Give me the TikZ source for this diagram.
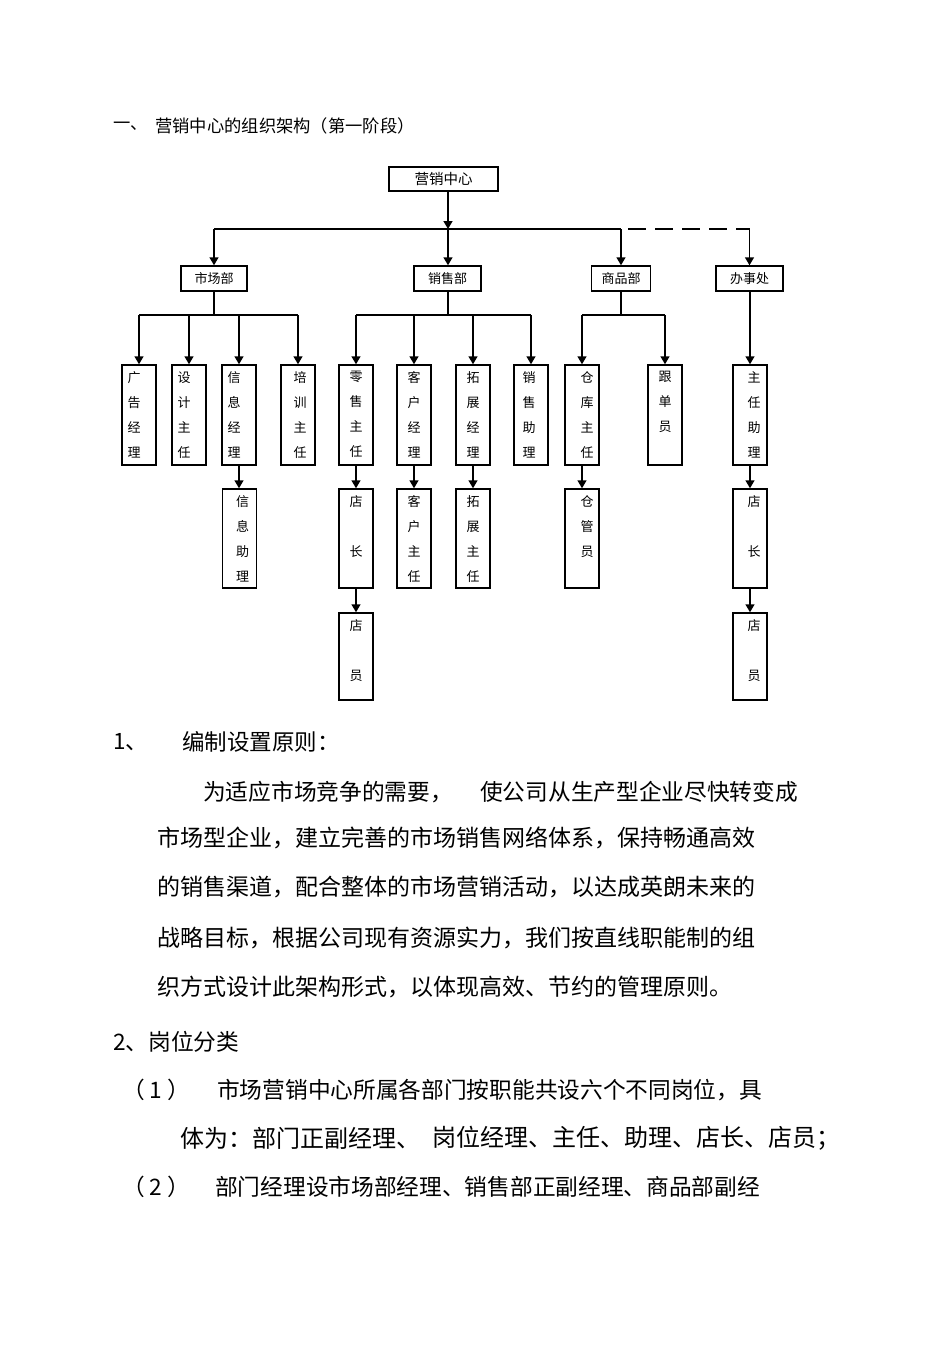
\documentclass[tikz,border=0pt]{standalone}
\usepackage{fontspec}
\setmainfont{Noto Sans CJK SC}
\usepackage{tikz}
\usetikzlibrary{shapes,arrows,arrows.meta,positioning}

\begin{document}
\begin{tikzpicture}[x=1pt,y=-1pt,
	line/.style={line width=1.5pt,draw=black},
	arr/.style={line,-{Triangle[width=9pt,length=8pt]}},
	box/.style={rectangle,draw,line width=1.5pt,inner sep=0pt},
	dept/.style={box,minimum height=25pt,font=\fontsize{13}{13}\selectfont},
	vbox/.style={box,minimum width=34pt,minimum height=100pt},
	lowbox/.style={box,minimum width=34pt,minimum height=99pt},
	endbox/.style={box,minimum width=34pt,minimum height=87pt},
	vtext/.style={inner sep=0pt,align=center,font=\fontsize{13}{25}\selectfont},
	title/.style={anchor=west,inner sep=0pt,font=\fontsize{17.3}{17.3}\selectfont},
	body/.style={anchor=west,inner sep=0pt,font=\fontsize{22.7}{22.7}\selectfont},
	wide/.style={body,font=\fontsize{23}{23}\selectfont}]
\useasboundingbox (0,0) rectangle (950,1345);

\node[title] (t1) at (113,126) {一、};
\node[title] (t2) at (155,126) {营销中心的组织架构（第一阶段）};

% top and departments
\node[box,minimum width=109pt,minimum height=24pt,font=\fontsize{14.5}{14.5}\selectfont] (center) at (443.5,179) {营销中心};
\node[dept,minimum width=66pt] (mkt) at (214,278.5) {市场部};
\node[dept,minimum width=67pt] (sales) at (447.5,278.5) {销售部\hspace{14pt}};
\node[dept,minimum width=59pt] (goods) at (621,278.5) {商品部};
\node[dept,minimum width=67pt] (office) at (749.5,278.5) {办事处};

\coordinate (bus) at (448,229);
\coordinate (sub) at (0,315);

% second level
\node[vbox] (ad) at (139,415) {};
\node[vbox] (design) at (189,415) {};
\node[vbox] (info) at (239,415) {};
\node[vbox] (train) at (298,415) {};
\node[vbox] (retail) at (356,415) {};
\node[vbox] (client) at (414,415) {};
\node[vbox] (expand) at (473,415) {};
\node[vbox] (salesast) at (531,415) {};
\node[vbox] (store) at (582,415) {};
\node[vbox] (order) at (665,415) {};
\node[vbox] (officeast) at (750,415) {};

\node[vtext,below=7pt of ad.north,xshift=-5pt] (ad-t) {广\\告\\经\\理};
\node[vtext,below=7pt of design.north,xshift=-5pt] (design-t) {设\\计\\主\\任};
\node[vtext,below=7pt of info.north,xshift=-5pt] (info-t) {信\\息\\经\\理};
\node[vtext,below=7pt of train.north,xshift=2pt] (train-t) {培\\训\\主\\任};
\node[vtext,below=7pt of retail.north] (retail-t) {零\\售\\主\\任};
\node[vtext,below=7pt of client.north] (client-t) {客\\户\\经\\理};
\node[vtext,below=7pt of expand.north] (expand-t) {拓\\展\\经\\理};
\node[vtext,below=7pt of salesast.north,xshift=-2pt] (salesast-t) {销\\售\\助\\理};
\node[vtext,below=7pt of store.north,xshift=5pt] (store-t) {仓\\库\\主\\任};
\node[vtext,below=7pt of order.north] (order-t) {跟\\单\\员};
\node[vtext,below=7pt of officeast.north,xshift=4pt] (officeast-t) {主\\任\\助\\理};

% third and fourth level
\node[lowbox] (infoast) at (239.5,538.5) {};
\node[lowbox] (shopmgr) at (356,538.5) {};
\node[lowbox] (clientdir) at (414,538.5) {};
\node[lowbox] (expanddir) at (473,538.5) {};
\node[lowbox] (keeper) at (582,538.5) {};
\node[lowbox] (officemgr) at (750,538.5) {};
\node[endbox] (clerk) at (356,656.5) {};
\node[endbox] (officeclerk) at (750,656.5) {};

\node[vtext,below=7pt of infoast.north,xshift=3pt] (infoast-t) {信\\息\\助\\理};
\node[vtext,below=7pt of shopmgr.north] (shopmgr-t) {店\\[25pt]长};
\node[vtext,below=7pt of clientdir.north] (clientdir-t) {客\\户\\主\\任};
\node[vtext,below=7pt of expanddir.north] (expanddir-t) {拓\\展\\主\\任};
\node[vtext,below=7pt of keeper.north,xshift=5pt] (keeper-t) {仓\\管\\员};
\node[vtext,below=7pt of officemgr.north,xshift=4pt] (officemgr-t) {店\\[25pt]长};
\node[vtext,below=7pt of clerk.north] (clerk-t) {店\\[25pt]员};
\node[vtext,below=7pt of officeclerk.north,xshift=4pt] (officeclerk-t) {店\\[25pt]员};

% connectors
\draw[arr] (center.south -| bus) -- (bus);
\draw[line] (mkt.north |- bus) -- (goods.north |- bus);
\draw[line,dash pattern=on 18pt off 9pt,dash phase=-7pt] (goods.north |- bus) -- (office.north |- bus);
\draw[arr] (mkt.north |- bus) -- (mkt.north);
\draw[arr] (bus) -- (bus |- sales.north);
\draw[arr] (goods.north |- bus) -- (goods.north);
\draw[arr] (office.north |- bus) -- (office.north);

\draw[line] (mkt.south) -- (mkt.south |- sub);
\draw[line] (ad.north |- sub) -- (train.north |- sub);
\foreach \b in {ad,design,info,train} \draw[arr] (\b.north |- sub) -- (\b.north);
\draw[line] (bus |- sales.south) -- (bus |- sub);
\draw[line] (retail.north |- sub) -- (salesast.north |- sub);
\foreach \b in {retail,client,expand,salesast} \draw[arr] (\b.north |- sub) -- (\b.north);
\draw[line] (goods.south) -- (goods.south |- sub);
\draw[line] (store.north |- sub) -- (order.north |- sub);
\foreach \b in {store,order} \draw[arr] (\b.north |- sub) -- (\b.north);
\draw[arr] (office.south -| officeast) -- (officeast.north);

\draw[arr] (info.south) -- (info.south |- infoast.north);
\draw[arr] (retail.south) -- (shopmgr.north);
\draw[arr] (client.south) -- (clientdir.north);
\draw[arr] (expand.south) -- (expanddir.north);
\draw[arr] (store.south) -- (keeper.north);
\draw[arr] (officeast.south) -- (officemgr.north);
\draw[arr] (shopmgr.south) -- (clerk.north);
\draw[arr] (officemgr.south) -- (officeclerk.north);

% text below the chart
\node[body,font=\fontsize{22.5}{22.5}\selectfont] (p1) at (113,742) {1、};
\node[body,font=\fontsize{22.5}{22.5}\selectfont] (p1h) at (182,742) {编制设置原则：};
\node[body] (l1a) at (203,792) {为适应市场竞争的需要，};
\node[body] (l1b) at (480,792) {使公司从生产型企业尽快转变成};
\node[wide] (l2) at (157,838) {市场型企业，建立完善的市场销售网络体系，保持畅通高效};
\node[wide] (l3) at (157,887) {的销售渠道，配合整体的市场营销活动，以达成英朗未来的};
\node[wide] (l4) at (157,938) {战略目标，根据公司现有资源实力，我们按直线职能制的组};
\node[wide] (l5) at (157,987) {织方式设计此架构形式，以体现高效、节约的管理原则。};
\node[body] (p2) at (113,1042) {2、岗位分类};
\node[body] (n1) at (122,1090) {（\hspace{5pt}1\hspace{5pt}）};
\node[body] (n1a) at (217,1090) {市场营销中心所属各部门按职能共设六个不同岗位，具};
\node[wide,font=\fontsize{24}{24}\selectfont] (n1b) at (180,1138) {体为：部门正副经理、};
\node[wide,font=\fontsize{24}{24}\selectfont] (n1c) at (432,1138) {岗位经理、主任、助理、店长、店员；};
\node[body] (n2) at (122,1187) {（\hspace{5pt}2\hspace{5pt}）};
\node[body] (n2a) at (215,1187) {部门经理设市场部经理、销售部正副经理、商品部副经};
\end{tikzpicture}
\end{document}
